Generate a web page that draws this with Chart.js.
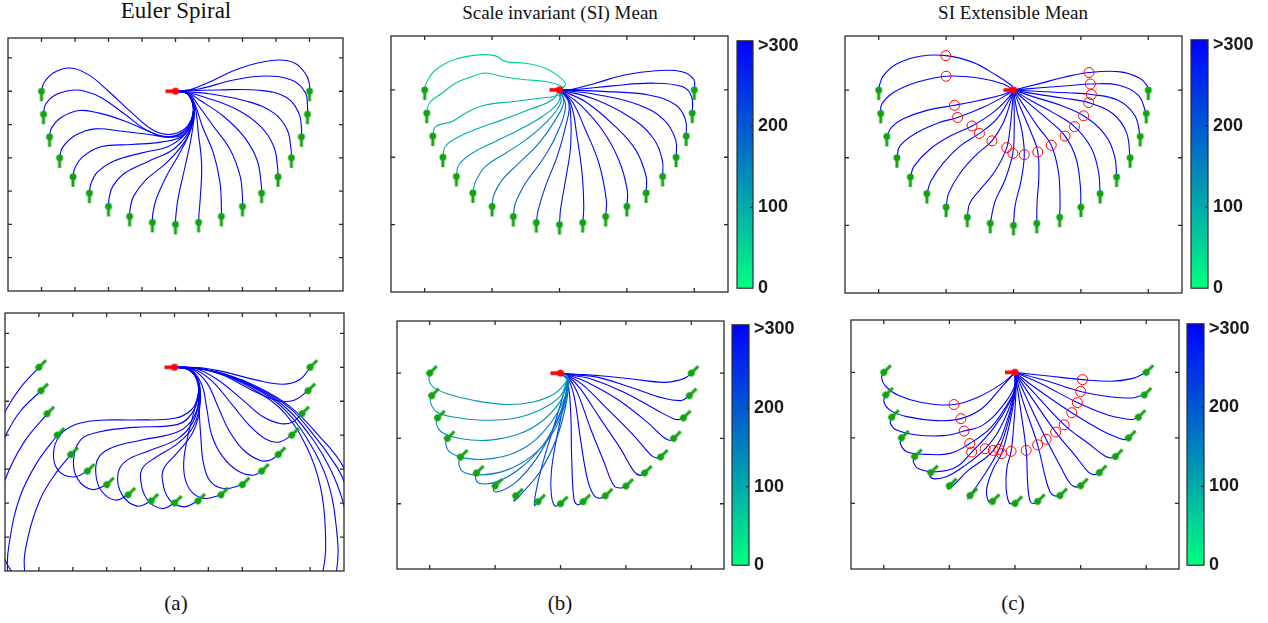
<!DOCTYPE html>
<html lang="en">
<head>
    <meta charset="UTF-8">
    <title>Euler Spiral / SI Mean / SI Extensible Mean</title>
    <script src="https://cdn.jsdelivr.net/npm/chart.js"></script>
    <style>
        body { margin: 0; background: #fff; width: 1268px; height: 623px; position: relative; overflow: hidden; }
        canvas { position: absolute; }
        .txt { position: absolute; font-family: "Liberation Serif", "Times New Roman", serif; color: #111; transform: translateX(-50%); white-space: nowrap; }
        .big { font-size: 23px; line-height: 23px; }
        .mid { font-size: 19px; line-height: 19px; }
        .cap { font-size: 21px; line-height: 21px; }
    </style>
</head>
<body>
    <div class="txt big" style="left:176px; top:-1px;">Euler Spiral</div>
    <div class="txt mid" style="left:560px; top:3px;">Scale invariant (SI) Mean</div>
    <div class="txt mid" style="left:1013px; top:3px;">SI Extensible Mean</div>
    <div class="txt cap" style="left:176px; top:593px;">(a)</div>
    <div class="txt cap" style="left:560px; top:593px;">(b)</div>
    <div class="txt cap" style="left:1013px; top:593px;">(c)</div>

    <canvas id="aTop" width="347" height="265" style="left:2px; top:32px;"></canvas>
    <canvas id="aBot" width="351" height="270" style="left:-1px; top:307px;"></canvas>
    <canvas id="bTop" width="349" height="268" style="left:385px; top:30px;"></canvas>
    <canvas id="bBot" width="339" height="260" style="left:391px; top:315px;"></canvas>
    <canvas id="cTop" width="349" height="269" style="left:839px; top:30px;"></canvas>
    <canvas id="cBot" width="340" height="261" style="left:845px; top:314px;"></canvas>

    <canvas id="cbBTop" width="64" height="279" style="left:735px; top:25px;"></canvas>
    <canvas id="cbBBot" width="65" height="272" style="left:730px; top:309px;"></canvas>
    <canvas id="cbCTop" width="65" height="280" style="left:1189px; top:24px;"></canvas>
    <canvas id="cbCBot" width="65" height="273" style="left:1185px; top:308px;"></canvas>

    <script>
        // axis limits and tick positions (same for every panel)
        const xRange = [-5, 5];
        const yRange = [-6, 1.6];
        const ticksAX = [-4, -3, -2, -1, 0, 1, 2, 3, 4];
        const ticksAY = [1, 0, -1, -2, -3, -4, -5];
        const ticksBCX = [-4, -2, 0, 2, 4];
        const ticksBCY = [0, -2, -4];

        // colorbar
        const cbTicks = [0, 100, 200, 300];
        const cbMax = 306;

        // source point and end points
        const source = [0, 0];
        const endX = [-4, -3.94, -3.76, -3.46, -3.06, -2.57, -2, -1.37, -0.69, 0, 0.69, 1.37, 2, 2.57, 3.06, 3.46, 3.76, 3.94, 4];
        const endY = [0, -0.69, -1.37, -2, -2.57, -3.06, -3.46, -3.76, -3.94, -4, -3.94, -3.76, -3.46, -3.06, -2.57, -2, -1.37, -0.69, 0];

        // (a) Euler spiral, top row
        const eulerTop = [
            [[0,0],[0.35,-0.07],[0.53,-0.42],[0.47,-0.85],[0.25,-1.15],[-0.2,-1.3],[-0.7,-1.15],[-1.3,-0.65],[-2.0,0.0],[-2.6,0.5],[-3.15,0.7],[-3.65,0.55],[-3.93,0.25],[-4,0]],
            [[0,0],[0.35,-0.07],[0.53,-0.45],[0.46,-0.9],[0.25,-1.2],[-0.2,-1.36],[-0.8,-1.2],[-1.5,-0.7],[-2.2,-0.2],[-2.7,0.0],[-3.1,0.03],[-3.6,-0.12],[-3.88,-0.4],[-3.94,-0.69]],
            [[0,0],[0.35,-0.07],[0.53,-0.45],[0.46,-0.92],[0.25,-1.24],[-0.27,-1.38],[-0.8,-1.2],[-1.5,-0.9],[-2.3,-0.65],[-2.87,-0.58],[-3.4,-0.78],[-3.7,-1.1],[-3.76,-1.37]],
            [[0,0],[0.35,-0.07],[0.53,-0.45],[0.47,-0.95],[0.3,-1.25],[-0.07,-1.38],[-0.8,-1.3],[-1.6,-1.2],[-2.4,-1.13],[-3.0,-1.33],[-3.38,-1.7],[-3.46,-2]],
            [[0,0],[0.35,-0.07],[0.53,-0.45],[0.48,-0.95],[0.2,-1.35],[-0.4,-1.52],[-1.3,-1.6],[-2.2,-1.66],[-2.75,-1.95],[-3.0,-2.3],[-3.06,-2.57]],
            [[0,0],[0.35,-0.07],[0.53,-0.45],[0.5,-0.9],[0.3,-1.28],[-0.2,-1.65],[-1.0,-1.85],[-1.85,-2.1],[-2.35,-2.45],[-2.53,-2.8],[-2.57,-3.06]],
            [[0,0],[0.35,-0.07],[0.54,-0.45],[0.53,-0.8],[0.38,-1.25],[-0.07,-1.75],[-0.8,-2.1],[-1.5,-2.45],[-1.87,-2.85],[-1.98,-3.2],[-2,-3.46]],
            [[0,0],[0.35,-0.07],[0.54,-0.45],[0.52,-0.95],[0.25,-1.55],[-0.27,-2.15],[-0.87,-2.65],[-1.25,-3.15],[-1.35,-3.5],[-1.37,-3.76]],
            [[0,0],[0.35,-0.07],[0.55,-0.45],[0.45,-1.15],[0.13,-1.85],[-0.27,-2.55],[-0.58,-3.25],[-0.68,-3.7],[-0.69,-3.94]],
            [[0,0],[0.35,-0.07],[0.55,-0.45],[0.5,-1.2],[0.3,-2.2],[0.08,-3.2],[0.01,-3.75],[0,-4]],
            [[0,0],[0.38,-0.07],[0.58,-0.45],[0.68,-1.25],[0.78,-2.2],[0.74,-3.2],[0.7,-3.7],[0.69,-3.94]],
            [[0,0],[0.38,-0.07],[0.6,-0.45],[0.8,-1.05],[1.13,-1.85],[1.33,-2.75],[1.37,-3.5],[1.37,-3.76]],
            [[0,0],[0.4,-0.07],[0.68,-0.42],[1.13,-1.05],[1.63,-1.75],[1.93,-2.55],[2.0,-3.2],[2,-3.46]],
            [[0,0],[0.4,-0.06],[0.73,-0.27],[1.43,-0.75],[2.03,-1.35],[2.43,-2.05],[2.56,-2.8],[2.57,-3.06]],
            [[0,0],[0.42,-0.05],[0.85,-0.17],[1.83,-0.55],[2.53,-1.05],[2.93,-1.65],[3.05,-2.3],[3.06,-2.57]],
            [[0,0],[0.5,-0.03],[1.05,-0.08],[2.13,-0.3],[2.93,-0.65],[3.33,-1.15],[3.45,-1.75],[3.46,-2]],
            [[0,0],[0.6,0.02],[1.25,0.04],[2.5,0.03],[3.3,-0.18],[3.68,-0.65],[3.76,-1.1],[3.76,-1.37]],
            [[0,0],[0.7,0.07],[1.7,0.33],[2.7,0.46],[3.5,0.32],[3.88,-0.05],[3.94,-0.45],[3.94,-0.69]],
            [[0,0],[0.45,0.05],[0.95,0.25],[1.95,0.7],[2.95,0.93],[3.55,0.85],[3.9,0.5],[4,0.2],[4,0]]
        ];

        // (a) Euler spiral, bottom row
        const eulerBot = [
            [[0,0],[0.6,-0.02],[1.5,-0.2],[2.5,-0.6],[3.4,-1.15],[4.2,-1.95],[5.0,-2.97],[5.5,-4.5],[5.3,-6.5],[4,-8.2],[2,-9.2],[-1,-9.2],[-3.5,-8],[-5.2,-5.8],[-5.6,-3.5],[-5.3,-2.0],[-5.0,-1.31],[-4.56,-0.62],[-4,0]],
            [[0,0],[0.6,-0.02],[1.5,-0.21],[2.5,-0.63],[3.4,-1.2],[4.15,-2.05],[4.7,-2.8],[5.0,-3.36],[5.3,-4.5],[5.0,-6.8],[3.4,-8.4],[1,-9],[-2,-8.6],[-4.3,-7],[-5.4,-5],[-5.45,-3.2],[-5.0,-2.05],[-4.56,-1.31],[-3.94,-0.69]],
            [[0,0],[0.6,-0.02],[1.5,-0.22],[2.5,-0.66],[3.35,-1.25],[4.1,-2.15],[4.6,-3.0],[4.95,-3.9],[5.15,-5],[4.8,-6.6],[3.2,-8],[0.5,-8.5],[-2.5,-8],[-4.6,-6.3],[-5.3,-4.5],[-5.0,-3.32],[-4.46,-2.24],[-3.76,-1.37]],
            [[0,0],[0.6,-0.02],[1.5,-0.23],[2.5,-0.69],[3.3,-1.3],[4.0,-2.25],[4.5,-3.3],[4.75,-4.5],[4.78,-6.0],[4.3,-7.5],[2.5,-8.7],[0,-9.3],[-3,-8.6],[-4.6,-7.3],[-4.92,-6.0],[-4.86,-5.09],[-4.56,-3.82],[-4.07,-2.83],[-3.46,-2]],
            [[0,0],[0.6,-0.02],[1.5,-0.24],[2.45,-0.72],[3.25,-1.35],[3.9,-2.35],[4.3,-3.5],[4.45,-4.8],[4.38,-6.0],[3.9,-7.5],[2,-8.5],[-0.5,-8.6],[-2.8,-8],[-4.1,-7],[-4.42,-6.0],[-4.32,-5.0],[-3.97,-3.91],[-3.58,-3.23],[-3.06,-2.57]],
            [[0,0],[0.4,-0.06],[0.65,-0.35],[0.7,-0.8],[0.5,-1.25],[0,-1.5],[-1.2,-1.55],[-2.2,-1.56],[-2.9,-1.68],[-3.38,-2.0],[-3.57,-2.55],[-3.42,-3.05],[-2.97,-3.23],[-2.57,-3.06]],
            [[0,0],[0.4,-0.06],[0.66,-0.36],[0.7,-0.85],[0.52,-1.35],[0.1,-1.68],[-1.2,-1.77],[-2.2,-1.9],[-2.78,-2.15],[-2.98,-2.75],[-2.85,-3.3],[-2.43,-3.6],[-2,-3.46]],
            [[0,0],[0.4,-0.06],[0.67,-0.37],[0.72,-0.9],[0.55,-1.5],[0.1,-1.9],[-1.0,-2.15],[-1.8,-2.35],[-2.24,-2.66],[-2.32,-3.15],[-2.15,-3.65],[-1.74,-3.91],[-1.37,-3.76]],
            [[0,0],[0.4,-0.06],[0.68,-0.38],[0.73,-0.95],[0.55,-1.6],[0.1,-2.1],[-0.73,-2.45],[-1.42,-2.75],[-1.67,-3.15],[-1.55,-3.75],[-1.1,-4.09],[-0.69,-3.94]],
            [[0,0],[0.4,-0.06],[0.69,-0.4],[0.75,-1.0],[0.55,-1.75],[0.06,-2.27],[-0.55,-2.65],[-0.93,-2.95],[-1.0,-3.3],[-0.8,-3.9],[-0.36,-4.16],[0,-4]],
            [[0,0],[0.4,-0.06],[0.7,-0.42],[0.76,-1.05],[0.55,-1.9],[0.05,-2.55],[-0.3,-2.95],[-0.36,-3.3],[-0.15,-3.9],[0.28,-4.11],[0.69,-3.94]],
            [[0,0],[0.42,-0.06],[0.72,-0.45],[0.62,-1.11],[0.38,-2.09],[0.27,-2.98],[0.45,-3.6],[0.87,-3.86],[1.37,-3.76]],
            [[0,0],[0.45,-0.06],[0.74,-0.5],[0.72,-1.05],[0.78,-2.1],[0.85,-2.8],[1.05,-3.35],[1.46,-3.57],[2,-3.46]],
            [[0,0],[0.48,-0.06],[0.8,-0.5],[0.95,-1.2],[1.1,-2.0],[1.4,-2.6],[1.85,-3.04],[2.32,-3.18],[2.57,-3.06]],
            [[0,0],[0.5,-0.05],[0.95,-0.45],[1.3,-1.2],[1.6,-1.85],[2.05,-2.45],[2.55,-2.75],[2.85,-2.72],[3.06,-2.57]],
            [[0,0],[0.55,-0.04],[1.1,-0.4],[1.7,-1.1],[2.2,-1.7],[2.7,-2.12],[3.1,-2.2],[3.46,-2]],
            [[0,0],[0.6,-0.03],[1.25,-0.35],[2.0,-0.95],[2.6,-1.45],[3.15,-1.66],[3.5,-1.6],[3.76,-1.37]],
            [[0,0],[0.65,-0.02],[1.4,-0.22],[2.3,-0.68],[3.0,-0.97],[3.5,-0.98],[3.94,-0.69]],
            [[0,0],[0.7,-0.01],[1.4,-0.12],[2.4,-0.37],[3.2,-0.5],[3.7,-0.36],[4,0]]
        ];

        // (b) SI mean, top row
        const siTop = [
            [[0,0],[0.18,0.15],[-0.02,0.4],[-0.42,0.64],[-1.01,0.79],[-1.6,0.84],[-1.9,1.01],[-2.4,1.04],[-3.09,0.91],[-3.68,0.59],[-3.96,0.2],[-4,0]],
            [[0,0],[0.08,0.1],[-0.42,0.25],[-1.01,0.3],[-1.7,0.4],[-2.2,0.5],[-2.59,0.4],[-3.09,0.2],[-3.49,-0.1],[-3.83,-0.35],[-3.92,-0.55],[-3.94,-0.69]],
            [[0,0],[-0.02,-0.15],[-0.61,-0.25],[-1.41,-0.35],[-2.2,-0.45],[-2.79,-0.69],[-3.19,-0.94],[-3.68,-1.09],[-3.76,-1.37]],
            [[0,0],[-0.22,-0.3],[-0.91,-0.59],[-1.7,-0.89],[-2.4,-1.14],[-2.99,-1.39],[-3.39,-1.68],[-3.46,-2]],
            [[0,0],[-0.02,-0.35],[-0.51,-0.79],[-1.21,-1.19],[-1.9,-1.53],[-2.59,-1.88],[-2.99,-2.23],[-3.06,-2.57]],
            [[0,0],[0.03,-0.4],[-0.42,-0.99],[-1.01,-1.49],[-1.6,-1.88],[-2.2,-2.28],[-2.49,-2.72],[-2.57,-3.06]],
            [[0,0],[0.13,-0.35],[-0.12,-0.89],[-0.61,-1.58],[-1.21,-2.18],[-1.7,-2.67],[-1.95,-3.12],[-2,-3.46]],
            [[0,0],[0.18,-0.5],[-0.12,-1.39],[-0.51,-2.08],[-1.01,-2.77],[-1.31,-3.37],[-1.37,-3.76]],
            [[0,0],[0.28,-0.4],[0.18,-1.09],[-0.07,-1.98],[-0.42,-2.87],[-0.63,-3.56],[-0.69,-3.94]],
            [[0,0],[0.23,-0.2],[0.33,-0.69],[0.33,-1.68],[0.18,-2.67],[0.03,-3.56],[0,-4]],
            [[0,0],[0.33,-0.4],[0.52,-1.39],[0.67,-2.48],[0.72,-3.47],[0.69,-3.94]],
            [[0,0],[0.38,-0.35],[0.77,-1.19],[1.17,-2.18],[1.39,-3.27],[1.37,-3.76]],
            [[0,0],[0.57,-0.4],[1.27,-1.19],[1.76,-2.08],[2.01,-2.97],[2,-3.46]],
            [[0,0],[0.77,-0.35],[1.66,-1.09],[2.26,-1.78],[2.57,-2.57],[2.57,-3.06]],
            [[0,0],[0.97,-0.25],[2.06,-0.79],[2.75,-1.39],[3.05,-2.08],[3.06,-2.57]],
            [[0,0],[1.17,-0.15],[2.36,-0.45],[3.1,-0.89],[3.45,-1.49],[3.46,-2]],
            [[0,0],[1.37,-0.05],[2.65,-0.15],[3.45,-0.45],[3.74,-0.89],[3.76,-1.37]],
            [[0,0],[0.57,0.02],[1.56,0.12],[2.75,0.2],[3.64,0.1],[3.92,-0.2],[3.94,-0.69]],
            [[0,0],[0.38,0.02],[1.07,0.2],[1.96,0.45],[2.85,0.57],[3.64,0.54],[3.99,0.3],[4,0]]
        ];
        const siTopCost = [55, 65, 88, 100, 118, 135, 160, 195, 250, 285, 310, 310, 310, 310, 310, 310, 310, 310, 310];

        // (b) SI mean, bottom row
        const siBot = [
            [[0,0],[0.2,-0.08],[0.13,-0.32],[-0.22,-0.65],[-0.84,-0.88],[-1.65,-0.96],[-2.67,-0.83],[-3.49,-0.62],[-3.9,-0.42],[-4.02,-0.21],[-4,0]],
            [[0,0],[0.2,-0.1],[0.18,-0.27],[-0.02,-0.72],[-0.63,-1.13],[-1.45,-1.39],[-2.37,-1.44],[-3.29,-1.34],[-3.8,-1.18],[-3.98,-0.88],[-3.94,-0.69]],
            [[0,0],[0.2,-0.12],[0.18,-0.37],[-0.02,-0.88],[-0.53,-1.44],[-1.24,-1.85],[-2.16,-2.05],[-3.08,-2.0],[-3.64,-1.8],[-3.8,-1.54],[-3.76,-1.37]],
            [[0,0],[0.22,-0.14],[0.23,-0.42],[0.03,-0.98],[-0.43,-1.69],[-1.14,-2.31],[-2.06,-2.61],[-2.88,-2.61],[-3.39,-2.41],[-3.51,-2.15],[-3.46,-2]],
            [[0,0],[0.22,-0.15],[0.23,-0.42],[0.13,-0.98],[-0.22,-1.8],[-0.84,-2.51],[-1.65,-2.97],[-2.47,-3.12],[-2.98,-3.02],[-3.11,-2.77],[-3.06,-2.57]],
            [[0,0],[0.22,-0.16],[0.23,-0.47],[-0.02,-1.29],[-0.53,-2.2],[-1.24,-2.92],[-1.96,-3.33],[-2.47,-3.38],[-2.6,-3.22],[-2.57,-3.06]],
            [[0,0],[0.22,-0.18],[0.18,-0.67],[-0.22,-1.69],[-0.73,-2.61],[-1.35,-3.33],[-1.85,-3.62],[-2.05,-3.6],[-2,-3.46]],
            [[0,0],[0.22,-0.2],[0.18,-0.88],[-0.12,-2.0],[-0.63,-3.02],[-1.2,-3.7],[-1.42,-3.92],[-1.37,-3.76]],
            [[0,0],[0.2,-0.2],[0.08,-0.67],[-0.22,-1.69],[-0.53,-2.71],[-0.73,-3.53],[-0.8,-4.05],[-0.69,-3.94]],
            [[0,0],[0.2,-0.2],[0.13,-0.78],[-0.12,-2.0],[-0.28,-3.02],[-0.28,-3.73],[-0.17,-4.07],[0,-4]],
            [[0,0],[0.2,-0.18],[0.31,-1.19],[0.34,-2.52],[0.41,-3.85],[0.53,-4.03],[0.69,-3.94]],
            [[0,0],[0.22,-0.16],[0.41,-0.68],[0.61,-2.01],[0.82,-3.23],[1.02,-3.74],[1.2,-3.83],[1.37,-3.76]],
            [[0,0],[0.25,-0.15],[0.51,-0.58],[0.92,-1.7],[1.33,-2.72],[1.63,-3.44],[1.84,-3.52],[2,-3.46]],
            [[0,0],[0.28,-0.13],[0.61,-0.48],[1.22,-1.4],[1.84,-2.32],[2.24,-3.0],[2.43,-3.13],[2.57,-3.06]],
            [[0,0],[0.3,-0.11],[0.71,-0.38],[1.43,-1.09],[2.24,-1.91],[2.76,-2.5],[2.94,-2.6],[3.06,-2.57]],
            [[0,0],[0.35,-0.09],[0.82,-0.28],[1.73,-0.79],[2.65,-1.5],[3.16,-1.97],[3.35,-2.06],[3.46,-2]],
            [[0,0],[0.4,-0.07],[0.92,-0.17],[1.94,-0.58],[2.96,-1.14],[3.47,-1.4],[3.63,-1.42],[3.76,-1.37]],
            [[0,0],[0.45,-0.05],[1.12,-0.12],[2.14,-0.43],[3.16,-0.77],[3.67,-0.84],[3.85,-0.76],[3.94,-0.69]],
            [[0,0],[0.5,-0.03],[1.12,-0.07],[2.14,-0.17],[3.16,-0.28],[3.67,-0.2],[3.9,-0.09],[4,0]]
        ];
        const siBotCost = [120, 125, 135, 145, 160, 180, 195, 210, 235, 260, 310, 310, 310, 310, 310, 310, 310, 310, 310];

        // (c) SI extensible mean, top row
        const extTop = [
            [[0,0],[-0.05,0.13],[-0.5,0.43],[-1.2,0.82],[-2.01,1.02],[-2.77,1.0],[-3.47,0.77],[-3.86,0.43],[-3.98,0.13],[-4,0]],
            [[0,0],[-0.3,0.18],[-1.0,0.35],[-2.0,0.41],[-2.87,0.23],[-3.56,-0.07],[-3.91,-0.42],[-3.94,-0.69]],
            [[0,0],[-0.3,-0.13],[-1.0,-0.3],[-1.75,-0.45],[-2.57,-0.6],[-3.27,-0.85],[-3.62,-1.1],[-3.76,-1.37]],
            [[0,0],[-0.25,-0.17],[-0.9,-0.51],[-1.66,-0.81],[-2.2,-0.96],[-2.87,-1.26],[-3.37,-1.65],[-3.46,-2]],
            [[0,0],[-0.15,-0.22],[-0.6,-0.66],[-1.23,-1.06],[-1.88,-1.36],[-2.48,-1.75],[-2.95,-2.25],[-3.06,-2.57]],
            [[0,0],[-0.12,-0.27],[-0.5,-0.86],[-1.01,-1.28],[-1.58,-1.65],[-2.08,-2.15],[-2.45,-2.69],[-2.57,-3.06]],
            [[0,0],[-0.08,-0.32],[-0.3,-0.96],[-0.64,-1.5],[-1.09,-1.9],[-1.58,-2.45],[-1.92,-3.04],[-2,-3.46]],
            [[0,0],[-0.04,-0.5],[-0.1,-1.1],[-0.2,-1.7],[-0.55,-2.4],[-1.0,-2.95],[-1.3,-3.35],[-1.37,-3.76]],
            [[0,0],[0.02,-0.6],[0.02,-1.2],[-0.02,-1.87],[-0.25,-2.65],[-0.55,-3.3],[-0.69,-3.94]],
            [[0,0],[0.1,-0.6],[0.25,-1.2],[0.32,-1.91],[0.22,-2.7],[0.05,-3.4],[0,-4]],
            [[0,0],[0.2,-0.5],[0.5,-1.2],[0.72,-1.83],[0.75,-2.6],[0.7,-3.3],[0.69,-3.94]],
            [[0,0],[0.3,-0.45],[0.7,-1.05],[1.12,-1.63],[1.33,-2.4],[1.38,-3.2],[1.37,-3.76]],
            [[0,0],[0.4,-0.35],[1.0,-0.85],[1.53,-1.36],[1.85,-2.0],[1.98,-2.8],[2,-3.46]],
            [[0,0],[0.5,-0.3],[1.2,-0.68],[1.81,-1.08],[2.3,-1.7],[2.52,-2.4],[2.57,-3.06]],
            [[0,0],[0.6,-0.2],[1.4,-0.45],[2.08,-0.76],[2.7,-1.3],[3.0,-1.95],[3.06,-2.57]],
            [[0,0],[0.7,-0.12],[1.5,-0.24],[2.23,-0.37],[2.95,-0.7],[3.35,-1.25],[3.46,-2]],
            [[0,0],[0.8,-0.04],[1.6,-0.08],[2.31,-0.13],[3.1,-0.3],[3.6,-0.75],[3.76,-1.37]],
            [[0,0],[0.8,0.07],[1.6,0.13],[2.28,0.18],[3.1,0.15],[3.7,-0.15],[3.94,-0.69]],
            [[0,0],[0.8,0.2],[1.5,0.38],[2.24,0.52],[3.17,0.54],[3.75,0.35],[3.97,0.12],[4,0]]
        ];
        const extTopMarks = [[-2.01,1.02],[-2.0,0.41],[-1.75,-0.45],[-1.66,-0.81],[-1.23,-1.06],[-1.01,-1.28],[-0.64,-1.5],[-0.2,-1.7],[-0.02,-1.87],[0.32,-1.91],[0.72,-1.83],[1.12,-1.63],[1.53,-1.36],[1.81,-1.08],[2.08,-0.76],[2.23,-0.37],[2.31,-0.13],[2.28,0.18],[2.24,0.52]];

        // (c) SI extensible mean, bottom row
        const extBot = [
            [[0,0],[-0.41,-0.35],[-1.12,-0.75],[-1.86,-0.98],[-2.85,-0.92],[-3.56,-0.7],[-3.96,-0.4],[-4.07,-0.14],[-4,0]],
            [[0,0],[-0.41,-0.45],[-1.02,-1.11],[-1.65,-1.41],[-2.39,-1.47],[-3.3,-1.35],[-3.81,-1.15],[-4.0,-0.88],[-3.94,-0.69]],
            [[0,0],[0,-0.39],[-0.36,-1.0],[-0.97,-1.6],[-1.55,-1.79],[-2.18,-1.93],[-3.0,-1.91],[-3.61,-1.76],[-3.8,-1.55],[-3.76,-1.37]],
            [[0,0],[0.05,-0.39],[-0.25,-1.0],[-0.76,-1.71],[-1.38,-2.17],[-1.98,-2.47],[-2.69,-2.5],[-3.3,-2.42],[-3.5,-2.16],[-3.46,-2]],
            [[0,0],[0.05,-0.28],[-0.15,-0.89],[-0.66,-1.71],[-1.32,-2.43],[-1.78,-2.88],[-2.39,-3.03],[-2.95,-2.93],[-3.1,-2.72],[-3.06,-2.57]],
            [[0,0],[-0.05,-0.69],[-0.46,-1.71],[-0.91,-2.33],[-1.58,-2.88],[-2.08,-3.18],[-2.44,-3.25],[-2.59,-3.18],[-2.57,-3.06]],
            [[0,0],[0,-0.49],[-0.25,-1.5],[-0.66,-2.38],[-1.47,-3.03],[-1.85,-3.42],[-2.05,-3.56],[-2,-3.46]],
            [[0,0],[0.02,-0.39],[-0.15,-1.3],[-0.49,-2.35],[-1.07,-3.33],[-1.35,-3.72],[-1.44,-3.86],[-1.37,-3.76]],
            [[0,0],[0.02,-0.49],[-0.15,-1.5],[-0.41,-2.48],[-0.66,-2.93],[-0.86,-3.54],[-0.81,-3.94],[-0.69,-3.94]],
            [[0,0],[0.03,-0.49],[-0.03,-1.5],[-0.12,-2.41],[-0.25,-2.93],[-0.27,-3.54],[-0.17,-3.99],[0,-4]],
            [[0,0],[0.15,-1.0],[0.34,-2.38],[0.39,-3.45],[0.46,-3.93],[0.56,-4.0],[0.69,-3.94]],
            [[0,0],[0.25,-0.9],[0.69,-2.21],[0.91,-3.14],[1.07,-3.65],[1.22,-3.77],[1.37,-3.76]],
            [[0,0],[0.36,-0.8],[0.95,-2.04],[1.37,-2.84],[1.68,-3.39],[1.85,-3.5],[2,-3.46]],
            [[0,0],[0.46,-0.7],[1.24,-1.82],[1.83,-2.53],[2.24,-3.04],[2.44,-3.12],[2.57,-3.06]],
            [[0,0],[0.56,-0.6],[1.5,-1.6],[2.24,-2.17],[2.74,-2.55],[2.92,-2.61],[3.06,-2.57]],
            [[0,0],[0.66,-0.5],[1.73,-1.23],[2.64,-1.77],[3.15,-2.0],[3.33,-2.05],[3.46,-2]],
            [[0,0],[0.81,-0.35],[1.9,-0.92],[2.85,-1.31],[3.46,-1.43],[3.62,-1.43],[3.76,-1.37]],
            [[0,0],[0.91,-0.24],[2.0,-0.58],[2.95,-0.75],[3.56,-0.78],[3.81,-0.72],[3.94,-0.69]],
            [[0,0],[1.02,-0.11],[2.06,-0.22],[2.95,-0.27],[3.56,-0.19],[3.86,-0.07],[4,0]]
        ];
        const extBotMarks = [[-1.86,-0.98],[-1.65,-1.41],[-1.55,-1.79],[-1.38,-2.17],[-1.32,-2.43],[-0.91,-2.33],[-0.66,-2.38],[-0.49,-2.35],[-0.41,-2.48],[-0.12,-2.41],[0.34,-2.38],[0.69,-2.21],[0.95,-2.04],[1.24,-1.82],[1.5,-1.6],[1.73,-1.23],[1.9,-0.92],[2.0,-0.58],[2.06,-0.22]];

        const FRAME = '#2b2b2b';
        const BLUE = 'rgb(0,0,255)';
        const GREEN = '#12a312';
        const RED = '#ff0000';

        // winter colormap, green (0) -> blue (cbMax)
        function costColor(v) {
            const t = Math.min(v, cbMax) / cbMax;
            return `rgb(0,${Math.round(255 * (1 - t))},${Math.round(128 + 127 * t)})`;
        }

        // dot with a short tangent stick, drawn pointing right (rotate with pointRotation)
        function stickMarker(color, len, r, lw) {
            const s = 2 * (len + 3);
            const c = document.createElement('canvas');
            c.width = s; c.height = s;
            const g = c.getContext('2d');
            g.strokeStyle = color; g.fillStyle = color; g.lineWidth = lw;
            g.beginPath(); g.moveTo(s / 2, s / 2); g.lineTo(s / 2 + len, s / 2); g.stroke();
            g.beginPath(); g.arc(s / 2, s / 2, r, 0, Math.PI * 2); g.fill();
            return c;
        }
        const greenStick = stickMarker(GREEN, 10, 3.4, 3);
        const redStick = stickMarker(RED, 10, 3.6, 3.6);

        const framePlugin = {
            id: 'frame',
            afterDraw(chart, args, opts) {
                const {ctx, chartArea: a, scales} = chart;
                ctx.save();
                ctx.strokeStyle = FRAME;
                ctx.lineWidth = 1.3;
                ctx.strokeRect(a.left, a.top, a.right - a.left, a.bottom - a.top);
                const L = 4;
                ctx.beginPath();
                (opts.xTicks || []).forEach(v => {
                    const px = scales.x.getPixelForValue(v);
                    ctx.moveTo(px, a.bottom); ctx.lineTo(px, a.bottom - L);
                    ctx.moveTo(px, a.top); ctx.lineTo(px, a.top + L);
                });
                (opts.yTicks || []).forEach(v => {
                    const py = scales.y.getPixelForValue(v);
                    ctx.moveTo(a.left, py); ctx.lineTo(a.left + L, py);
                    ctx.moveTo(a.right, py); ctx.lineTo(a.right - L, py);
                });
                ctx.stroke();
                ctx.restore();
            }
        };

        function toXY(pts) {
            return pts.map(p => ({x: p[0], y: p[1]}));
        }

        function drawPanel(id, curves, colors, marks, stickRot, xTicks, yTicks) {
            const datasets = [];
            datasets.push({
                data: [{x: source[0], y: source[1]}],
                showLine: false, pointStyle: redStick, pointRotation: 180, pointRadius: 4, order: 0
            });
            datasets.push({
                data: endX.map((x, i) => ({x: x, y: endY[i]})),
                showLine: false, pointStyle: greenStick, pointRotation: stickRot, pointRadius: 4, order: 0
            });
            if (marks) {
                datasets.push({
                    data: toXY(marks), showLine: false, pointStyle: 'circle', pointRadius: 5,
                    borderColor: RED, backgroundColor: 'rgba(0,0,0,0)', pointBorderWidth: 1, order: 0
                });
            }
            curves.forEach((c, i) => {
                datasets.push({
                    data: toXY(c), showLine: true, borderColor: colors[i], borderWidth: 1.1,
                    pointRadius: 0, tension: 0.4, fill: false, order: 1
                });
            });
            new Chart(document.getElementById(id), {
                type: 'scatter',
                data: {datasets: datasets},
                options: {
                    responsive: false,
                    animation: false,
                    layout: {padding: 6},
                    elements: {line: {capBezierPoints: false}},
                    scales: {
                        x: {type: 'linear', min: xRange[0], max: xRange[1], display: false},
                        y: {type: 'linear', min: yRange[0], max: yRange[1], display: false}
                    },
                    plugins: {
                        legend: {display: false},
                        tooltip: {enabled: false},
                        frame: {xTicks: xTicks, yTicks: yTicks}
                    }
                },
                plugins: [framePlugin]
            });
        }

        const cbFrame = {
            id: 'cbFrame',
            afterDraw(chart) {
                const {ctx, chartArea: a, scales} = chart;
                ctx.save();
                ctx.strokeStyle = FRAME;
                ctx.lineWidth = 1.2;
                ctx.strokeRect(a.left, a.top, a.right - a.left, a.bottom - a.top);
                ctx.beginPath();
                cbTicks.slice(1).forEach(v => {
                    const py = scales.y.getPixelForValue(v);
                    ctx.moveTo(a.right, py); ctx.lineTo(a.right - 3, py);
                });
                ctx.stroke();
                ctx.restore();
            }
        };

        function drawColorbar(id) {
            new Chart(document.getElementById(id), {
                type: 'bar',
                data: {
                    labels: [''],
                    datasets: [{
                        data: [cbMax],
                        barPercentage: 1, categoryPercentage: 1, borderWidth: 0,
                        backgroundColor: (c) => {
                            const a = c.chart.chartArea;
                            if (!a) return BLUE;
                            const g = c.chart.ctx.createLinearGradient(0, a.bottom, 0, a.top);
                            g.addColorStop(0, costColor(0));
                            g.addColorStop(1, costColor(cbMax));
                            return g;
                        }
                    }]
                },
                options: {
                    responsive: false,
                    animation: false,
                    layout: {padding: {left: 2, right: 0, top: 12, bottom: 12}},
                    scales: {
                        x: {display: false},
                        y: {
                            position: 'right', min: 0, max: cbMax,
                            grid: {display: false, drawTicks: false},
                            border: {display: false},
                            afterBuildTicks: (s) => { s.ticks = cbTicks.map(v => ({value: v})); },
                            afterFit: (s) => { s.width = 46; },
                            ticks: {
                                padding: 5, color: '#1a1a1a',
                                font: {family: '"Liberation Sans", Arial, sans-serif', size: 18, weight: 'bold'},
                                callback: (v) => v === 300 ? '>300' : String(v)
                            }
                        }
                    },
                    plugins: {legend: {display: false}, tooltip: {enabled: false}}
                },
                plugins: [cbFrame]
            });
        }

        const allBlue = endX.map(() => BLUE);
        drawPanel('aTop', eulerTop, allBlue, null, 90, ticksAX, ticksAY);
        drawPanel('aBot', eulerBot, allBlue, null, -45, ticksAX, ticksAY);
        drawPanel('bTop', siTop, siTopCost.map(costColor), null, 90, ticksBCX, ticksBCY);
        drawPanel('bBot', siBot, siBotCost.map(costColor), null, -45, ticksBCX, ticksBCY);
        drawPanel('cTop', extTop, allBlue, extTopMarks, 90, ticksBCX, ticksBCY);
        drawPanel('cBot', extBot, allBlue, extBotMarks, -45, ticksBCX, ticksBCY);

        drawColorbar('cbBTop');
        drawColorbar('cbBBot');
        drawColorbar('cbCTop');
        drawColorbar('cbCBot');
    </script>
</body>
</html>
